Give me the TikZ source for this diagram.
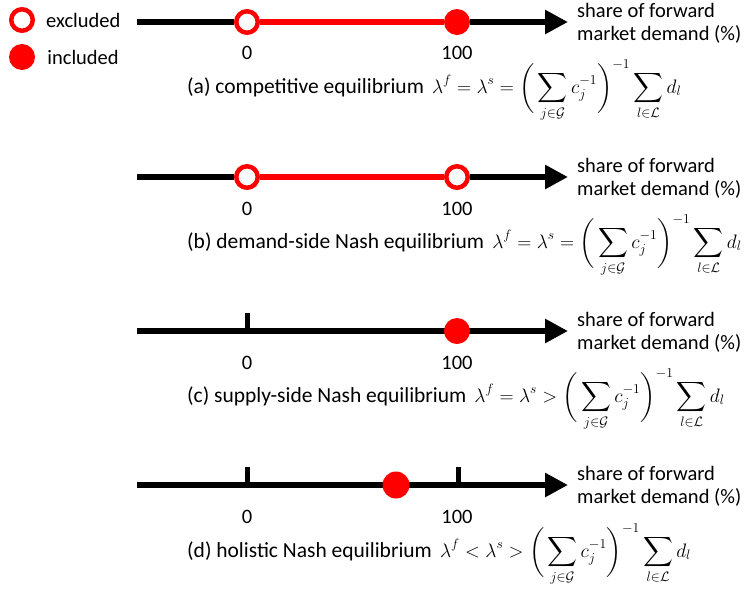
\documentclass[tikz,border=0pt]{standalone}
\usepackage{fix-cm}
\usepackage{amsmath}
\usepackage{fontspec}
\setmainfont{Carlito}
\usetikzlibrary{positioning, arrows.meta}
\definecolor{excl}{RGB}{255,0,0}
\newcommand{\eqmath}[1]{{\fontsize{19.5}{23}\selectfont$\displaystyle #1$}}

\begin{document}
\begin{tikzpicture}[
    x=1pt, y=-1pt,
    axline/.style={line width=6.5pt},
    axis/.style={axline, -{Triangle[length=23pt, width=23pt]}},
    seg/.style={draw=excl, line width=5.5pt},
    opendot/.style={circle, draw=excl, fill=white, line width=4.5pt,
                    minimum size=21.5pt, inner sep=0pt},
    fulldot/.style={circle, fill=excl, minimum size=26pt, inner sep=0pt},
    tickmark/.style={line width=5pt},
    lbl/.style={font=\fontsize{20.5}{23.5}\selectfont, inner sep=0pt},
    axlbl/.style={lbl, align=left, anchor=west},
    captxt/.style={font=\fontsize{21.5}{25}\selectfont, inner sep=0pt, anchor=west},
]
\useasboundingbox (0,0) rectangle (749,590);

% legend
\node[opendot] (legex) at (22,20) {};
\node[axlbl, right=11pt of legex] {excluded};
\node[fulldot] (legin) at (22,57) {};
\node[axlbl, right=12pt of legin] {included};

% (a) competitive
\coordinate (startA) at (137,22);
\coordinate (endA) at (568,22);
\node[opendot] (zeroA) at (247,22) {};
\node[fulldot] (hundA) at (457,22) {};
\draw[axline] (startA) -- (zeroA);
\draw[axis] (hundA) -- (endA);
\draw[seg] (zeroA) -- (hundA);
\node[lbl] at (247,53) {0};
\node[lbl] at (457,53) {100};
\node[axlbl, right=9pt of endA, yshift=-1.5pt] {share of forward\\market demand (\%)};
\node[captxt] (capA) at (187,91)
    {(a) competitive equilibrium\hspace{8pt}\eqmath{\lambda^f = \lambda^s = \bigg(\sum_{j\in\mathcal{G}} c_j^{-1}\bigg)^{-1}\sum_{l\in\mathcal{L}} d_l}};

% (b) demand-side
\coordinate (startB) at (137,177);
\coordinate (endB) at (568,177);
\node[opendot] (zeroB) at (247,177) {};
\node[opendot] (hundB) at (457,177) {};
\draw[axline] (startB) -- (zeroB);
\draw[axis] (hundB) -- (endB);
\draw[seg] (zeroB) -- (hundB);
\node[lbl] at (247,209) {0};
\node[lbl] at (457,209) {100};
\node[axlbl, right=9pt of endB, yshift=-1.5pt] {share of forward\\market demand (\%)};
\node[captxt] (capB) at (187,246)
    {(b) demand-side Nash equilibrium\hspace{8pt}\eqmath{\lambda^f = \lambda^s = \bigg(\sum_{j\in\mathcal{G}} c_j^{-1}\bigg)^{-1}\sum_{l\in\mathcal{L}} d_l}};

% (c) supply-side
\coordinate (startC) at (137,331);
\coordinate (endC) at (568,331);
\coordinate (tickC) at (247,331);
\draw[axis] (startC) -- (endC);
\draw[tickmark] (tickC) -- ++(0,-18);
\node[fulldot] (hundC) at (457,331) {};
\node[lbl] at (247,363) {0};
\node[lbl] at (457,363) {100};
\node[axlbl, right=9pt of endC, yshift=-1.5pt] {share of forward\\market demand (\%)};
\node[captxt] (capC) at (187,400)
    {(c) supply-side Nash equilibrium\hspace{8pt}\eqmath{\lambda^f = \lambda^s > \bigg(\sum_{j\in\mathcal{G}} c_j^{-1}\bigg)^{-1}\sum_{l\in\mathcal{L}} d_l}};

% (d) holistic
\coordinate (startD) at (137,485);
\coordinate (endD) at (568,485);
\coordinate (tickD0) at (247,485);
\coordinate (tickD1) at (458,485);
\draw[axis] (startD) -- (endD);
\draw[tickmark] (tickD0) -- ++(0,-18);
\draw[tickmark] (tickD1) -- ++(0,-18);
\node[fulldot, minimum size=27pt] (midD) at (396,485) {};
\node[lbl] at (247,517) {0};
\node[lbl] at (457,517) {100};
\node[axlbl, right=9pt of endD, yshift=-1.5pt] {share of forward\\market demand (\%)};
\node[captxt] (capD) at (187,555)
    {(d) holistic Nash equilibrium\hspace{8pt}\eqmath{\lambda^f < \lambda^s > \bigg(\sum_{j\in\mathcal{G}} c_j^{-1}\bigg)^{-1}\sum_{l\in\mathcal{L}} d_l}};

\end{tikzpicture}
\end{document}
